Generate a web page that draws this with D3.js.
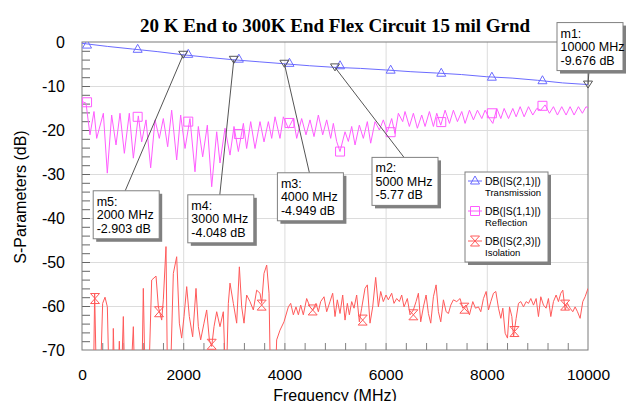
<!DOCTYPE html>
<html>
<head>
<meta charset="utf-8">
<script src="https://cdn.jsdelivr.net/npm/d3@7"></script>
<style>
  body { margin: 0; background: #fff; }
  svg { display: block; font-family: "Liberation Sans", Arial, sans-serif; }
</style>
</head>
<body>
<svg id="chart" width="627" height="401"></svg>
<script>
// ---- data ----
var transFreq = [0, 500, 1000, 1500, 2000, 2500, 3000, 3500, 4000, 4500, 5000,
                 5500, 6000, 6500, 7000, 7500, 8000, 8500, 9000, 9500, 10000];
var transDb   = [-0.3, -1.0, -1.6, -2.2, -2.903, -3.5, -4.048, -4.5, -4.949, -5.4, -5.77,
                 -6.0, -6.35, -6.75, -7.05, -7.4, -7.9, -8.2, -8.7, -9.3, -9.676];

var reflFreq = [0, 79, 158, 237, 290, 422, 500, 586, 672, 751, 837, 935, 1015, 1113, 1179, 1265,
  1357, 1443, 1528, 1607, 1693, 1772, 1871, 1950, 2036, 2134, 2233, 2299, 2385, 2477, 2563, 2662,
  2727, 2826, 2925, 3004, 3090, 3189, 3254, 3334, 3419, 3518, 3597, 3683, 3749, 3815, 3913, 3979,
  4078, 4177, 4243, 4341, 4427, 4506, 4585, 4671, 4757, 4836, 4915, 4967, 5033, 5099, 5198, 5264,
  5330, 5396, 5481, 5560, 5639, 5705, 5791, 5877, 5955, 6035, 6120, 6186, 6252, 6338, 6384, 6470,
  6549, 6628, 6714, 6780, 6866, 6945, 7011, 7090, 7176, 7262, 7340, 7420, 7505, 7571, 7657, 7736,
  7815, 7901, 7967, 8053, 8119, 8198, 8277, 8343, 8429, 8514, 8580, 8659, 8738, 8824, 8909, 8988,
  9067, 9152, 9238, 9317, 9396, 9481, 9567, 9646, 9725, 9811, 9889, 9961, 10000];
var reflDb = [-13.5, -13.9, -21.1, -15.8, -21.9, -16.2, -29.8, -16.6, -23.4, -16.2, -25.3, -16.2, -26.4, -16.8, -22.7, -17.7,
  -28.6, -17.7, -21.9, -17.4, -23.8, -15.5, -26.8, -16.6, -24.2, -17.4, -29.5, -19.2, -26.1, -18.9, -32.9, -20.4,
  -27.5, -19.6, -25.7, -19.2, -24.9, -18.5, -24.2, -18.1, -24.2, -18.1, -22.7, -18.1, -21.9, -17.0, -21.9, -17.0,
  -19.6, -17.4, -21.9, -17.4, -21.1, -17.7, -21.5, -16.6, -21.1, -17.7, -21.9, -18.5, -22.6, -24.9, -20.4, -22.6,
  -19.2, -23.4, -18.9, -21.9, -18.1, -23.0, -18.1, -20.0, -17.7, -20.4, -17.4, -20.8, -16.2, -18.1, -15.8, -19.2,
  -16.2, -19.6, -16.6, -19.2, -15.8, -19.2, -16.2, -18.9, -15.5, -18.5, -15.5, -18.1, -15.8, -18.5, -15.5, -17.7,
  -15.5, -17.4, -15.5, -17.4, -18.5, -15.1, -17.4, -15.1, -17.4, -15.1, -17.0, -14.7, -17.0, -14.7, -16.6, -15.1,
  -15.5, -14.3, -16.2, -14.7, -16.6, -14.7, -16.6, -14.7, -16.6, -14.7, -16.2, -14.7, -15.0];

var isoFreq = [0, 224, 250, 290, 356, 408, 455, 501, 540, 600, 619, 652, 700, 738, 770, 817, 850,
  949, 1015, 1047, 1179, 1212, 1252, 1311, 1377, 1463, 1509, 1575, 1607, 1660, 1693, 1739, 1805,
  1871, 1924, 1970, 2016, 2069, 2121, 2187, 2253, 2299, 2345, 2411, 2464, 2517, 2563, 2609, 2662,
  2727, 2793, 2846, 2892, 2925, 2991, 3057, 3110, 3156, 3202, 3254, 3320, 3386, 3452, 3518, 3551,
  3597, 3650, 3696, 3729, 3815, 3847, 3913, 3992, 4078, 4124, 4177, 4229, 4276, 4322, 4374, 4440,
  4506, 4559, 4625, 4671, 4717, 4783, 4836, 4901, 4954, 5000, 5046, 5099, 5152, 5198, 5244, 5284,
  5330, 5376, 5428, 5481, 5527, 5593, 5639, 5692, 5745, 5804, 5857, 5903, 5955, 6008, 6054, 6120,
  6166, 6219, 6272, 6318, 6364, 6430, 6483, 6549, 6602, 6648, 6694, 6747, 6800, 6846, 6892, 6945,
  6998, 7044, 7090, 7143, 7196, 7242, 7288, 7340, 7406, 7472, 7525, 7591, 7657, 7723, 7776, 7835,
  7881, 7934, 7987, 8033, 8079, 8132, 8178, 8231, 8277, 8317, 8363, 8409, 8449, 8495, 8528, 8580,
  8626, 8672, 8725, 8778, 8824, 8870, 8923, 8975, 9021, 9067, 9120, 9172, 9218, 9265, 9317, 9370,
  9416, 9462, 9502, 9548, 9594, 9646, 9699, 9745, 9792, 9844, 9897, 9943, 10000];
var isoDb = [-80, -80, -57.1, -80, -80, -59.4, -58.0, -60.2, -80, -80, -65.1, -80, -80, -68.0, -80, -62.4, -80,
  -80, -64.7, -80, -80, -56.0, -80, -80, -54.1, -53.2, -60.2, -63.2, -58.6, -46.5, -80, -80, -52.6,
  -48.8, -63.9, -67.3, -62.4, -55.6, -62.4, -67.0, -56.0, -64.7, -67.7, -63.9, -60.9, -67.7, -69.2, -64.7, -61.3,
  -64.7, -61.3, -80, -59.4, -54.8, -59.4, -63.9, -51.1, -60.2, -63.9, -57.5, -59.0, -60.9, -56.4, -57.1, -59.4,
  -52.6, -50.7, -57.1, -80, -80, -67.7, -65.5, -63.6, -60.2, -59.4, -62.0, -60.2, -62.0, -59.8, -62.0, -58.3,
  -60.2, -60.9, -59.4, -61.3, -59.0, -57.9, -61.3, -59.0, -57.1, -62.4, -58.6, -61.7, -57.5, -63.2, -59.4, -62.0,
  -59.0, -60.5, -57.5, -63.6, -60.5, -56.0, -55.2, -63.9, -60.2, -53.5, -60.2, -56.7, -59.0, -57.5, -58.6, -57.1,
  -59.4, -58.3, -59.0, -57.5, -60.2, -58.3, -62.0, -60.9, -59.0, -57.1, -63.6, -60.2, -57.5, -61.7, -63.9, -57.9,
  -55.2, -61.3, -63.6, -58.6, -61.3, -61.7, -59.8, -58.6, -59.0, -58.3, -60.5, -59.8, -62.0, -59.0, -60.5, -60.2,
  -61.3, -58.3, -56.7, -60.9, -59.0, -57.1, -56.7, -60.5, -62.8, -60.5, -66.2, -67.3, -60.2, -62.4, -67.0, -62.8,
  -59.4, -59.0, -60.2, -59.0, -59.4, -58.3, -59.8, -58.3, -62.4, -57.9, -59.8, -60.5, -58.3, -62.4, -59.0, -57.5,
  -59.0, -57.1, -56.4, -60.9, -59.4, -60.5, -61.3, -60.2, -61.3, -62.8, -59.0, -57.9, -56.0];

// symbol positions along each trace
var transMarkFreq = [100, 1100, 2100, 3100, 4100, 5100, 6100, 7100, 8100, 9100];
var transMarkDb   = [-0.7, -1.66, -2.8, -3.9, -4.85, -5.4, -6.4, -7.1, -8.0, -8.8];
var reflMarkFreq  = [100, 1100, 2100, 3100, 4100, 5100, 6100, 7100, 8100, 9100];
var reflMarkDb    = [-13.7, -17.0, -18.1, -20.9, -18.4, -24.9, -20.5, -18.2, -16.2, -14.5];
var isoMarkFreq   = [257, 1522, 2563, 3551, 4559, 5547, 6549, 7557, 8547, 9548];
var isoMarkDb     = [-58.3, -61.3, -68.7, -59.8, -60.9, -63.2, -62.0, -60.5, -65.8, -59.8];

// markers m1..m5
var markNames = ["m1", "m2", "m3", "m4", "m5"];
var markFreq  = [10000, 5000, 4000, 3000, 2000];
var markDb    = [-9.676, -5.77, -4.949, -4.048, -2.903];

var xTicks = [0, 2000, 4000, 6000, 8000, 10000];
var yTicks = [0, -10, -20, -30, -40, -50, -60, -70];
var seriesNames = ["DB(|S(2,1)|)", "DB(|S(1,1)|)", "DB(|S(2,3)|)"];
var seriesNotes = ["Transmission", "Reflection", "Isolation"];

(function() {
  // ---- layout ----
  var svg = d3.select("#chart");
  var pL = 82, pR = 588, pT = 42, pB = 350;
  var x = d3.scaleLinear().domain([0, 10000]).range([pL, pR]);
  var y = d3.scaleLinear().domain([0, -70]).range([pT, pB]);
  var loc = d3.formatLocale({decimal: ".", thousands: ",", grouping: [3], currency: ["", ""], minus: "-"});
  var fmtInt = loc.format("d");
  var fmtDb = loc.format(".4~");

  var colTrans = "#6b6bff", colRefl = "#ff5cff", colIso = "#ff5a5a";

  svg.append("rect").attr("width", 627).attr("height", 401).attr("fill", "#fff");

  // title
  svg.append("text")
    .attr("x", 335).attr("y", 32)
    .attr("text-anchor", "middle")
    .style("font-family", "'Liberation Serif', 'Times New Roman', serif")
    .style("font-weight", "bold")
    .style("font-size", "19px")
    .text("20 K End to 300K End Flex Circuit 15 mil Grnd");

  // grid
  svg.append("g")
    .attr("transform", "translate(0," + pB + ")")
    .call(d3.axisBottom(x).tickValues([2000, 4000, 6000, 8000]).tickSize(-(pB - pT)).tickFormat(""))
    .call(function(g) { g.select(".domain").remove(); g.selectAll("line").attr("stroke", "#dcdcdc"); });
  svg.append("g")
    .attr("transform", "translate(" + pL + ",0)")
    .call(d3.axisLeft(y).tickValues([-10, -20, -30, -40, -50, -60]).tickSize(-(pR - pL)).tickFormat(""))
    .call(function(g) { g.select(".domain").remove(); g.selectAll("line").attr("stroke", "#dcdcdc"); });

  // minor ticks
  svg.append("g")
    .attr("transform", "translate(0," + pB + ")")
    .call(d3.axisBottom(x).tickValues(d3.range(400, 10000, 400)).tickSize(-7).tickFormat(""))
    .call(function(g) { g.select(".domain").remove(); g.selectAll("line").attr("stroke", "#808080"); });
  svg.append("g")
    .attr("transform", "translate(" + pL + ",0)")
    .call(d3.axisLeft(y).tickValues(d3.range(-68, 0, 2)).tickSize(-8).tickFormat(""))
    .call(function(g) { g.select(".domain").remove(); g.selectAll("line").attr("stroke", "#666"); });

  // tick labels
  svg.append("g")
    .attr("transform", "translate(0," + pB + ")")
    .call(d3.axisBottom(x).tickValues(xTicks).tickSize(0).tickPadding(19).tickFormat(fmtInt))
    .call(function(g) {
      g.select(".domain").remove();
      g.selectAll("text").attr("fill", "#000").style("font-size", "15.5px").style("font-family", "'Liberation Sans', Arial, sans-serif");
    });
  svg.append("g")
    .attr("transform", "translate(" + pL + ",0)")
    .call(d3.axisLeft(y).tickValues(yTicks).tickSize(0).tickPadding(17).tickFormat(fmtInt))
    .call(function(g) {
      g.select(".domain").remove();
      g.selectAll("text").attr("fill", "#000").style("font-size", "16px").style("font-family", "'Liberation Sans', Arial, sans-serif");
    });

  // axis titles (the x title sits at the bottom edge, cut off as in the original)
  svg.append("text")
    .attr("x", 335).attr("y", 401)
    .attr("text-anchor", "middle")
    .style("font-size", "16px")
    .text("Frequency (MHz)");
  svg.append("text")
    .attr("transform", "translate(26,197) rotate(-90)")
    .attr("text-anchor", "middle")
    .style("font-size", "16px")
    .text("S-Parameters (dB)");

  // frame
  svg.append("rect")
    .attr("x", pL).attr("y", pT)
    .attr("width", pR - pL).attr("height", pB - pT)
    .attr("fill", "none").attr("stroke", "#7a7a7a");

  // traces
  svg.append("clipPath").attr("id", "plotclip")
    .append("rect").attr("x", pL).attr("y", pT).attr("width", pR - pL).attr("height", pB - pT);
  var plot = svg.append("g").attr("clip-path", "url(#plotclip)");

  function drawTrace(freqs, vals, color) {
    var line = d3.line()
      .x(function(d, i) { return x(freqs[i]); })
      .y(function(d) { return y(d); });
    plot.append("path")
      .datum(vals)
      .attr("fill", "none")
      .attr("stroke", color)
      .attr("stroke-width", 1)
      .attr("d", line);
  }
  drawTrace(transFreq, transDb, colTrans);
  drawTrace(reflFreq, reflDb, colRefl);
  drawTrace(isoFreq, isoDb, colIso);

  var symTri = "M0,-5L4.5,3L-4.5,3Z";
  var symSq = "M-4.5,-4.5H4.5V4.5H-4.5Z";
  var symHour = "M-4.5,-5H4.5L-4.5,5H4.5Z";
  var symMark = "M-4.5,-3.5H4.5L0,3.5Z";

  function drawSymbols(freqs, vals, shape, color) {
    plot.append("g").selectAll("path")
      .data(vals)
      .enter().append("path")
      .attr("transform", function(d, i) { return "translate(" + x(freqs[i]) + "," + y(d) + ")"; })
      .attr("d", shape)
      .attr("fill", "none")
      .attr("stroke", color)
      .attr("stroke-width", 1);
  }
  drawSymbols(transMarkFreq, transMarkDb, symTri, colTrans);
  drawSymbols(reflMarkFreq, reflMarkDb, symSq, colRefl);
  drawSymbols(isoMarkFreq, isoMarkDb, symHour, colIso);

  // marker readouts: box offset from the marker point
  var boxOffset = [[-31, -62], [37, 90], [-7, 109], [-46, 135], [-90, 136]];
  var boxW = 66, boxH = 48;
  var ann = svg.append("g");
  markNames.forEach(function(name, i) {
    var px = x(markFreq[i]), py = y(markDb[i]);
    var bx = px + boxOffset[i][0], by = py + boxOffset[i][1];
    var cx = bx + 32;
    var cy = by > py ? by : by + boxH;
    ann.append("line")
      .attr("x1", px).attr("y1", py).attr("x2", cx).attr("y2", cy)
      .attr("stroke", "#555").attr("stroke-width", 1);
    ann.append("path")
      .attr("transform", "translate(" + px + "," + py + ")")
      .attr("d", symMark).attr("fill", "none").attr("stroke", "#555");
    ann.append("rect")
      .attr("x", bx + 3).attr("y", by + 3).attr("width", boxW).attr("height", boxH)
      .attr("fill", "#808080");
    ann.append("rect")
      .attr("x", bx).attr("y", by).attr("width", boxW).attr("height", boxH)
      .attr("fill", "#fff").attr("stroke", "#808080");
    var lines = [name + ":", fmtInt(markFreq[i]) + " MHz", fmtDb(markDb[i]) + " dB"];
    ann.append("g").selectAll("text")
      .data(lines)
      .enter().append("text")
      .attr("x", bx + 3.5)
      .attr("y", function(d, j) { return by + 15 + j * 13.5; })
      .style("font-size", "12.5px")
      .text(function(d) { return d; });
  });

  // legend
  var lg = svg.append("g");
  lg.append("rect").attr("x", 468).attr("y", 175).attr("width", 83).attr("height", 90).attr("fill", "#808080");
  lg.append("rect").attr("x", 465).attr("y", 172).attr("width", 83).attr("height", 90)
    .attr("fill", "#fff").attr("stroke", "#808080");
  var legColors = [colTrans, colRefl, colIso];
  var legShapes = [symTri, symSq, symHour];
  seriesNames.forEach(function(name, i) {
    var ly = 181 + i * 30;
    lg.append("line").attr("x1", 468).attr("x2", 482).attr("y1", ly).attr("y2", ly)
      .attr("stroke", legColors[i]);
    lg.append("path").attr("transform", "translate(475," + ly + ")")
      .attr("d", legShapes[i]).attr("fill", "none").attr("stroke", legColors[i]);
    lg.append("text").attr("x", 485).attr("y", ly + 4).style("font-size", "10.5px").text(name);
    lg.append("text").attr("x", 485).attr("y", ly + 15).style("font-size", "9.5px").text(seriesNotes[i]);
  });
})();
</script>
</body>
</html>
